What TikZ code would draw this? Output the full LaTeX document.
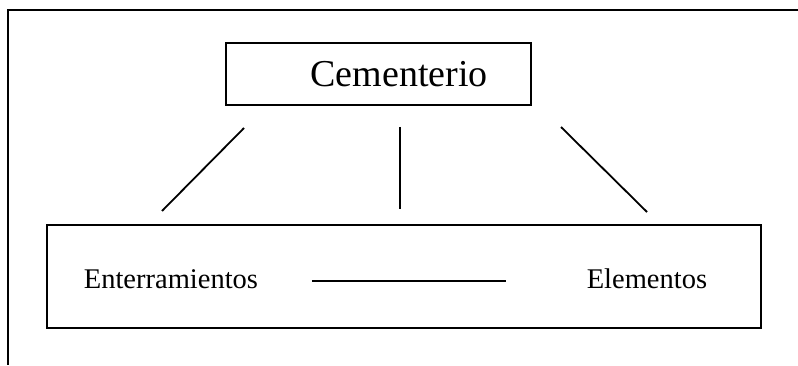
\documentclass[tikz,border=0pt]{standalone}
\usepackage{fontspec}
\setmainfont{Liberation Serif}
\usepackage{tikz}

\begin{document}
\begin{tikzpicture}[x=1pt, y=-1pt, line width=1.8pt,
  caja/.style={draw, line width=1.8pt, inner sep=0pt},
  texto/.style={inner sep=0pt, anchor=base, font=\fontsize{28.5}{30}\selectfont}]
\useasboundingbox (0,0) rectangle (798,366);

% marco
\draw (798,10) -- (8,10) -- (8,365);

% Cementerio
\node[caja, minimum width=305pt, minimum height=62pt] (cem) at (378.5,74) {};
\node[texto, font=\fontsize{38}{40}\selectfont] (cemtxt) at (399,87) {Cementerio};

% conjunto inferior
\node[caja, minimum width=714pt, minimum height=103pt] (grupo) at (404,276.5) {};
\node[texto, anchor=base west] (ent) at (83,288) {Enterramientos};
\node[texto, anchor=base east] (ele) at (708,288) {Elementos};
\draw[shorten <=53pt, shorten >=80pt] ([yshift=7pt]ent.base east) -- ([yshift=7pt]ele.base west);

% enlaces
\coordinate (izqA) at (244,128);
\coordinate (izqB) at (162,211);
\coordinate (cenA) at (400,127);
\coordinate (cenB) at (400,209);
\coordinate (derA) at (561,127);
\coordinate (derB) at (647,212);
\draw (izqA) -- (izqB);
\draw (cenA) -- (cenB);
\draw (derA) -- (derB);
\end{tikzpicture}
\end{document}
